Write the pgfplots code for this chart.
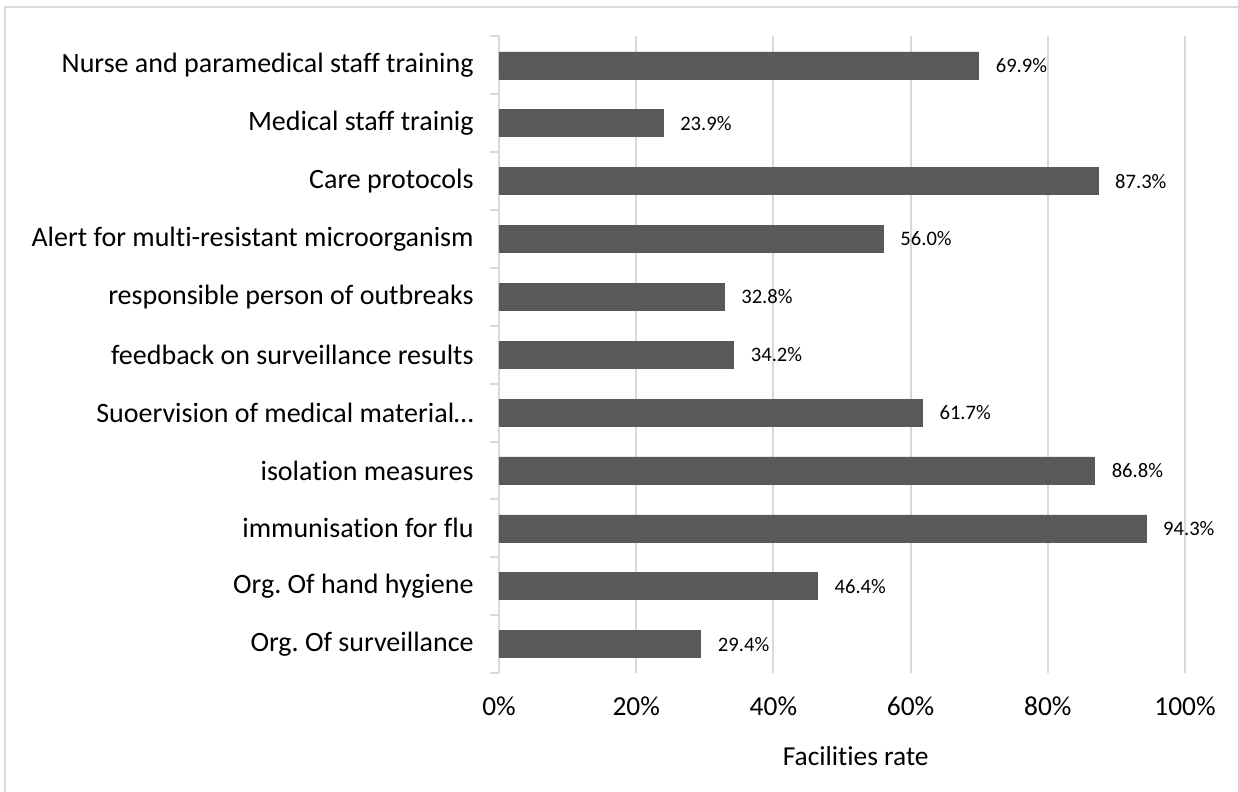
\documentclass[border=0pt]{standalone}
\usepackage{pgfplots}
\pgfplotsset{compat=1.18}
\usepackage{fontspec}
\setmainfont{Carlito}[Ligatures=NoCommon]
\frenchspacing
\definecolor{barc}{HTML}{595959}
\definecolor{gridc}{HTML}{D9D9D9}
\begin{document}
\begin{tikzpicture}[x=1bp,y=1bp]
\useasboundingbox (-249.5,-59) rectangle (369.5,336.5);
\draw[gridc, line width=1bp] (-247,-70) -- (-247,333) -- (380,333);
\begin{axis}[
  at={(0,0)}, anchor=south west,
  scale only axis, width=343bp, height=318.3bp,
  xbar, bar width=13.5bp, bar shift=0pt,
  xmin=0, xmax=100, ymin=-0.5, ymax=10.5,
  xtick={0,20,...,100},
  xticklabel={\pgfmathprintnumber{\tick}\%},
  /pgf/number format/assume math mode=true,
  ytick={0,...,10},
  yticklabels={Org. Of surveillance, Org. Of hand hygiene, immunisation for flu, isolation measures, Suoervision of medical material…, feedback on surveillance results, responsible person of outbreaks, Alert for multi-resistant microorganism, Care protocols, Medical staff trainig, Nurse and paramedical staff training},
  minor ytick={-0.5,0.5,...,10.5},
  major tick length=0pt, minor tick length=4.5bp,
  tick align=outside,
  minor tick style={gridc, line width=1bp},
  xmajorgrids, grid style={gridc, line width=1bp},
  axis x line*=bottom, x axis line style={draw=none},
  axis y line*=left, y axis line style={gridc, line width=1bp, -},
  xticklabel style={anchor=base, inner sep=0pt, yshift=-21bp, font=\fontsize{13.7bp}{16bp}\selectfont},
  yticklabel style={anchor=east, inner sep=0pt, xshift=-12.5bp, font=\fontsize{14bp}{16bp}\selectfont},
  nodes near coords={\pgfmathprintnumber[fixed, fixed zerofill, precision=1]{\pgfplotspointmeta}\%},
  every node near coord/.style={anchor=west, inner sep=0pt, xshift=8.5bp, font=\fontsize{10.3bp}{12bp}\selectfont, black},
  clip=false,
]
\addplot[fill=barc, draw=barc, line width=0.3bp] coordinates {
(29.4,0) (46.4,1) (94.3,2) (86.8,3) (61.7,4) (34.2,5) (32.8,6) (56.0,7) (87.3,8) (23.9,9) (69.9,10)};
\node[anchor=base, font=\fontsize{13.7bp}{16bp}\selectfont] at (axis description cs:0.52,0) [yshift=-46bp] {Facilities rate};
\end{axis}
\end{tikzpicture}
\end{document}
